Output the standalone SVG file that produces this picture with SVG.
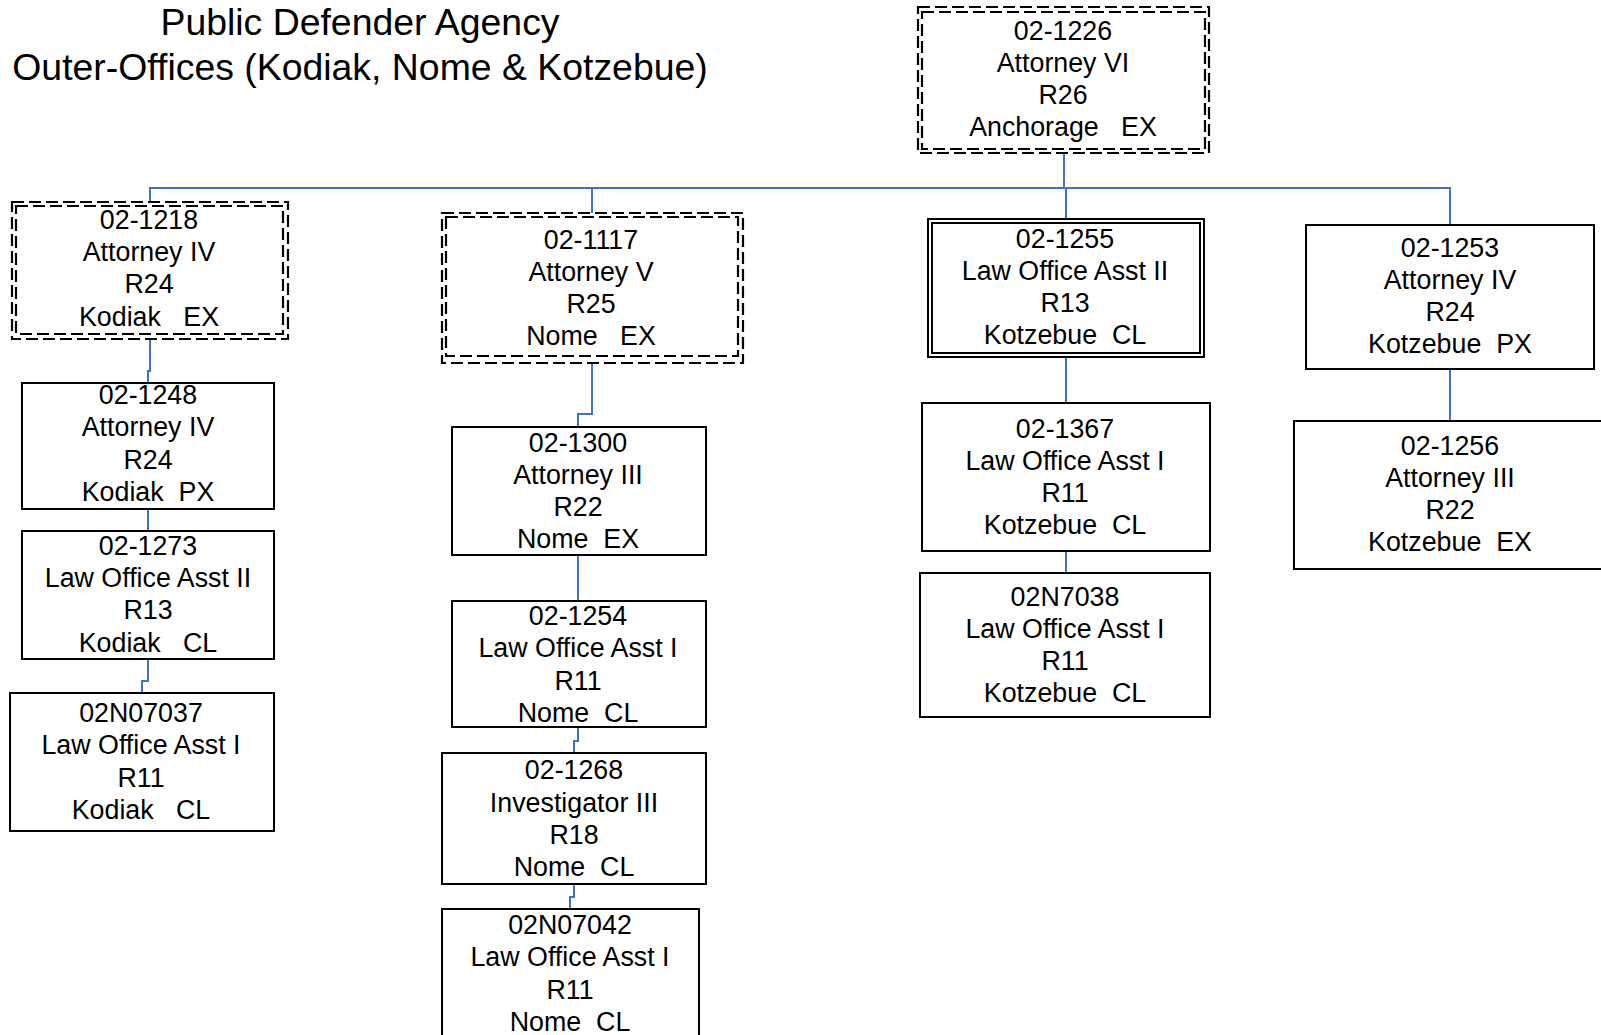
<svg xmlns="http://www.w3.org/2000/svg" width="1601" height="1035" viewBox="0 0 1601 1035" xml:space="preserve">
<style>
.bg{fill:#fff}
.box{fill:#fff;stroke:#000;stroke-width:2}
.dash{fill:none;stroke:#000;stroke-width:2.2;stroke-dasharray:12 5}
.dbl{fill:none;stroke:#000;stroke-width:2}
.conn{fill:none;stroke:#4472C4;stroke-width:2}
text{font-family:"Liberation Sans",Arial,sans-serif;fill:#000;white-space:pre}
.t{font-size:26.8px;text-anchor:middle}
.title{font-size:37.4px;text-anchor:middle}
</style>
<rect class="bg" x="0" y="0" width="1601" height="1035"/>
<g id="title">
<text class="title" x="360" y="35">Public Defender Agency</text>
<text class="title" x="360" y="80">Outer-Offices (Kodiak, Nome &amp; Kotzebue)</text>
</g>
<g id="connectors">
<path class="conn" d="M1064 153 V188"/>
<path class="conn" d="M150 202 V188 H1450 V225"/>
<path class="conn" d="M592 188 V213"/>
<path class="conn" d="M1066 188 V219"/>
<path class="conn" d="M150 339 V371 H148 V383"/>
<path class="conn" d="M148 509 V531"/>
<path class="conn" d="M148 659 V681 H142 V693"/>
<path class="conn" d="M592 363 V414 H578 V427"/>
<path class="conn" d="M578 555 V601"/>
<path class="conn" d="M578 727 V741 H574 V753"/>
<path class="conn" d="M574 884 V897 H570 V909"/>
<path class="conn" d="M1066 357 V403"/>
<path class="conn" d="M1066 551 V573"/>
<path class="conn" d="M1450 369 V421"/>
</g>
<g id="n-02-1226">
<rect class="bg" x="918" y="7" width="291" height="146"/>
<rect class="dash" x="918" y="7" width="291" height="146"/>
<rect class="dash" x="922" y="12" width="283" height="137"/>
<text class="t" x="1063" y="40">02-1226</text>
<text class="t" x="1063" y="72">Attorney VI</text>
<text class="t" x="1063" y="104">R26</text>
<text class="t" x="1063" y="136">Anchorage   EX</text>
</g>
<g id="n-02-1218">
<rect class="bg" x="12" y="202" width="276" height="137"/>
<rect class="dash" x="12" y="202" width="276" height="137"/>
<rect class="dash" x="16" y="206" width="267" height="128"/>
<text class="t" x="149" y="229">02-1218</text>
<text class="t" x="149" y="261">Attorney IV</text>
<text class="t" x="149" y="293">R24</text>
<text class="t" x="149" y="325.5">Kodiak   EX</text>
</g>
<g id="n-02-1248">
<rect class="box" x="22" y="383" width="252" height="126"/>
<text class="t" x="148" y="404">02-1248</text>
<text class="t" x="148" y="436">Attorney IV</text>
<text class="t" x="148" y="468.5">R24</text>
<text class="t" x="148" y="500.5">Kodiak  PX</text>
</g>
<g id="n-02-1273">
<rect class="box" x="22" y="531" width="252" height="128"/>
<text class="t" x="148" y="555">02-1273</text>
<text class="t" x="148" y="587">Law Office Asst II</text>
<text class="t" x="148" y="619">R13</text>
<text class="t" x="148" y="651.5">Kodiak   CL</text>
</g>
<g id="n-02N07037">
<rect class="box" x="10" y="693" width="264" height="138"/>
<text class="t" x="141" y="722">02N07037</text>
<text class="t" x="141" y="754">Law Office Asst I</text>
<text class="t" x="141" y="786.5">R11</text>
<text class="t" x="141" y="818.5">Kodiak   CL</text>
</g>
<g id="n-02-1117">
<rect class="bg" x="442" y="213" width="301" height="150"/>
<rect class="dash" x="442" y="213" width="301" height="150"/>
<rect class="dash" x="446" y="217" width="292" height="139"/>
<text class="t" x="591" y="248.5">02-1117</text>
<text class="t" x="591" y="280.5">Attorney V</text>
<text class="t" x="591" y="312.5">R25</text>
<text class="t" x="591" y="344.5">Nome   EX</text>
</g>
<g id="n-02-1300">
<rect class="box" x="452" y="427" width="254" height="128"/>
<text class="t" x="578" y="451.5">02-1300</text>
<text class="t" x="578" y="483.5">Attorney III</text>
<text class="t" x="578" y="515.5">R22</text>
<text class="t" x="578" y="547.5">Nome  EX</text>
</g>
<g id="n-02-1254">
<rect class="box" x="452" y="601" width="254" height="126"/>
<text class="t" x="578" y="625">02-1254</text>
<text class="t" x="578" y="657">Law Office Asst I</text>
<text class="t" x="578" y="689.5">R11</text>
<text class="t" x="578" y="721.5">Nome  CL</text>
</g>
<g id="n-02-1268">
<rect class="box" x="442" y="753" width="264" height="131"/>
<text class="t" x="574" y="779">02-1268</text>
<text class="t" x="574" y="811.5">Investigator III</text>
<text class="t" x="574" y="843.5">R18</text>
<text class="t" x="574" y="875.5">Nome  CL</text>
</g>
<g id="n-02N07042">
<rect class="box" x="442" y="909" width="257" height="140"/>
<text class="t" x="570" y="934">02N07042</text>
<text class="t" x="570" y="966">Law Office Asst I</text>
<text class="t" x="570" y="998.5">R11</text>
<text class="t" x="570" y="1030.5">Nome  CL</text>
</g>
<g id="n-02-1255">
<rect class="box" x="928" y="219" width="276" height="138"/>
<rect class="dbl" x="932" y="223" width="268" height="130"/>
<text class="t" x="1065" y="248">02-1255</text>
<text class="t" x="1065" y="280">Law Office Asst II</text>
<text class="t" x="1065" y="312">R13</text>
<text class="t" x="1065" y="344">Kotzebue  CL</text>
</g>
<g id="n-02-1367">
<rect class="box" x="922" y="403" width="288" height="148"/>
<text class="t" x="1065" y="438">02-1367</text>
<text class="t" x="1065" y="470">Law Office Asst I</text>
<text class="t" x="1065" y="502">R11</text>
<text class="t" x="1065" y="534">Kotzebue  CL</text>
</g>
<g id="n-02N7038">
<rect class="box" x="920" y="573" width="290" height="144"/>
<text class="t" x="1065" y="606">02N7038</text>
<text class="t" x="1065" y="638">Law Office Asst I</text>
<text class="t" x="1065" y="670">R11</text>
<text class="t" x="1065" y="702">Kotzebue  CL</text>
</g>
<g id="n-02-1253">
<rect class="box" x="1306" y="225" width="288" height="144"/>
<text class="t" x="1450" y="257">02-1253</text>
<text class="t" x="1450" y="289">Attorney IV</text>
<text class="t" x="1450" y="321">R24</text>
<text class="t" x="1450" y="353">Kotzebue  PX</text>
</g>
<g id="n-02-1256">
<rect class="box" x="1294" y="421" width="310" height="148"/>
<text class="t" x="1450" y="455">02-1256</text>
<text class="t" x="1450" y="487">Attorney III</text>
<text class="t" x="1450" y="519">R22</text>
<text class="t" x="1450" y="551">Kotzebue  EX</text>
</g>
</svg>
